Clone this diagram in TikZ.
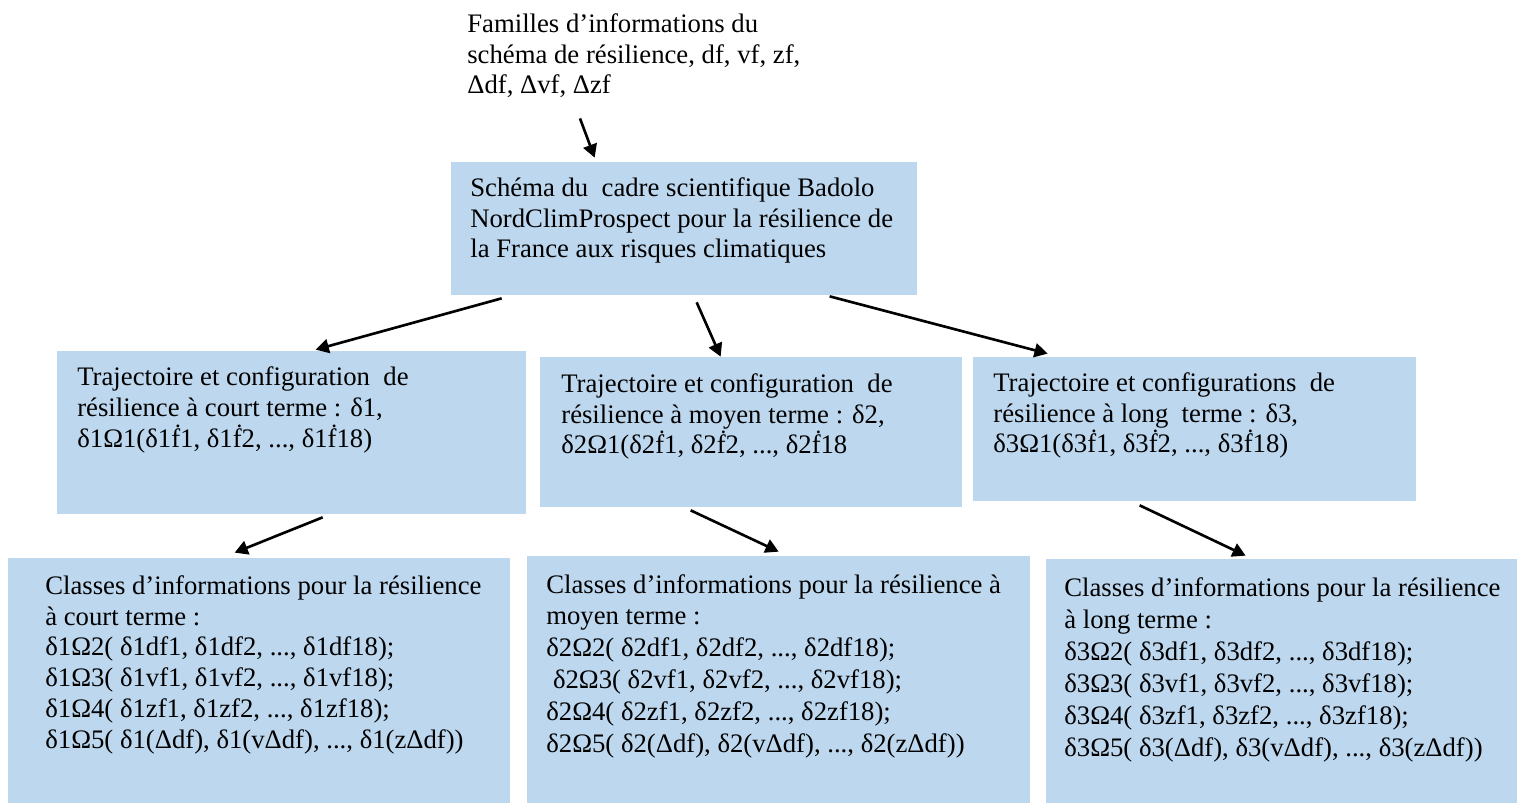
\documentclass[tikz,border=0pt]{standalone}
\usepackage{fontspec}
\setmainfont{Liberation Serif}
\usepackage{tikz}
\usetikzlibrary{arrows.meta,fit}
\definecolor{boxblue}{HTML}{BDD7EE}

\begin{document}
\begin{tikzpicture}[x=0.02cm,y=-0.02cm]
	\tikzstyle{every node}=[font=\fontsize{15.2}{17.5}\selectfont];
	\tikzstyle{bx}=[rectangle,fill=boxblue,draw=none,inner sep=0pt];
	\tikzstyle{txt}=[anchor=base west,align=left,inner sep=0pt];
	\tikzstyle{wide}=[font=\fontsize{15.2}{18.1}\selectfont];
	\tikzstyle{pth}=[draw,-{Triangle[length=7.5pt,width=8pt]},line width=1.5pt];
	\useasboundingbox (0,0) rectangle (1517,803);
	% boxes
	\node (main) [bx,fit={(451,162) (917,295)}] {};
	\node (court) [bx,fit={(57,351) (526,514)}] {};
	\node (moyen) [bx,fit={(540,357) (962,507)}] {};
	\node (long) [bx,fit={(973,357) (1416,501)}] {};
	\node (ccourt) [bx,fit={(8,558) (510,803)}] {};
	\node (cmoyen) [bx,fit={(527,556) (1030,803)}] {};
	\node (clong) [bx,fit={(1046,559) (1517,803)}] {};
	% texts (anchored at the last baseline)
	\node (familles) [txt] at (467,94) {Familles d’informations du\\schéma de résilience, df, vf, zf,\\Δdf, Δvf, Δzf};
	\node (t_main) [txt] at (470,258) {Schéma du\ \ cadre scientifique Badolo\\NordClimProspect pour la résilience de\\la France aux risques climatiques};
	\node (t_court) [txt] at (77,447) {Trajectoire et configuration\ \ de\\résilience à court terme : δ1,\\δ1Ω1(δ1ḟ1, δ1ḟ2, ..., δ1ḟ18)};
	\node (t_moyen) [txt] at (561,454) {Trajectoire et configuration\ \ de\\résilience à moyen terme : δ2,\\δ2Ω1(δ2ḟ1, δ2ḟ2, ..., δ2ḟ18};
	\node (t_long) [txt] at (993,453) {Trajectoire et configurations\ \ de\\résilience à long\ \ terme : δ3,\\δ3Ω1(δ3ḟ1, δ3ḟ2, ..., δ3ḟ18)};
	\node (t_ccourt) [txt] at (45,748) {Classes d’informations pour la résilience\\à court terme :\\δ1Ω2( δ1df1, δ1df2, ..., δ1df18);\\δ1Ω3( δ1vf1, δ1vf2, ..., δ1vf18);\\δ1Ω4( δ1zf1, δ1zf2, ..., δ1zf18);\\δ1Ω5( δ1(Δdf), δ1(vΔdf), ..., δ1(zΔdf))};
	\node (t_cmoyen) [txt,wide] at (546,752) {Classes d’informations pour la résilience à\\moyen terme :\\δ2Ω2( δ2df1, δ2df2, ..., δ2df18);\\\ δ2Ω3( δ2vf1, δ2vf2, ..., δ2vf18);\\δ2Ω4( δ2zf1, δ2zf2, ..., δ2zf18);\\δ2Ω5( δ2(Δdf), δ2(vΔdf), ..., δ2(zΔdf))};
	\node (t_clong) [txt,wide] at (1064,756) {Classes d’informations pour la résilience\\à long terme :\\δ3Ω2( δ3df1, δ3df2, ..., δ3df18);\\δ3Ω3( δ3vf1, δ3vf2, ..., δ3vf18);\\δ3Ω4( δ3zf1, δ3zf2, ..., δ3zf18);\\δ3Ω5( δ3(Δdf), δ3(vΔdf), ..., δ3(zΔdf))};
	% arrows
	\draw[pth] ([shift={(113,20)}]familles.south west) -- ([shift={(144,-4)}]main.north west);
	\draw[pth] ([shift={(51,3)}]main.south west) -- ([shift={(259,-1)}]court.north west);
	\draw[pth] ([shift={(246,7)}]main.south west) -- ([shift={(181,0)}]moyen.north west);
	\draw[pth] ([shift={(379,1)}]main.south west) -- ([shift={(75,-3)}]long.north west);
	\draw[pth] ([shift={(266,3)}]court.south west) -- ([shift={(227,-5)}]ccourt.north west);
	\draw[pth] ([shift={(151,3)}]moyen.south west) -- ([shift={(252,-4)}]cmoyen.north west);
	\draw[pth] ([shift={(167,4)}]long.south west) -- ([shift={(200,-3)}]clong.north west);
\end{tikzpicture}
\end{document}
